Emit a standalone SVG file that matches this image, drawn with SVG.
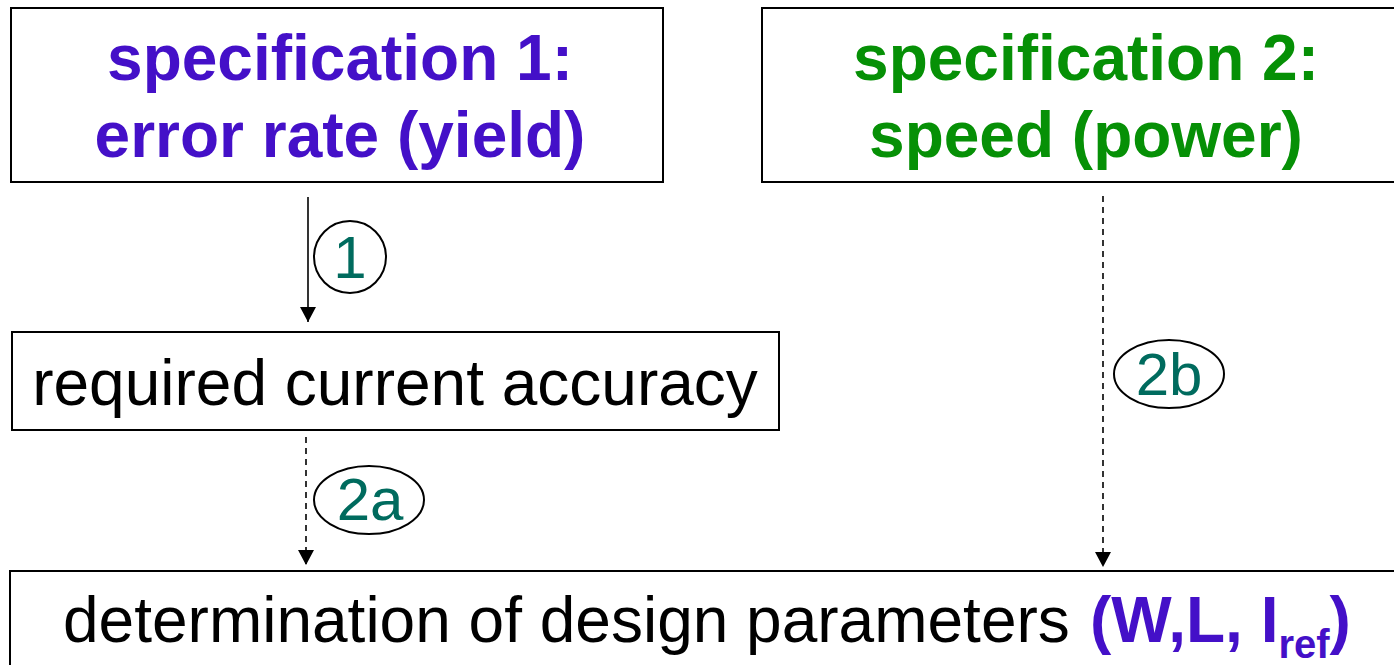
<svg xmlns="http://www.w3.org/2000/svg" width="1394" height="665" viewBox="0 0 1394 665">
  <style>
    .box { fill: #ffffff; stroke: #000000; stroke-width: 2; }
    .title { font-family: "Liberation Sans", Arial, sans-serif; font-weight: bold; font-size: 64px; text-anchor: middle; }
    .body { font-family: "Liberation Sans", Arial, sans-serif; font-size: 64px; fill: #000000; }
    .tag { fill: #ffffff; stroke: #000000; stroke-width: 2; }
    .tagtext { font-family: "Liberation Sans", Arial, sans-serif; font-size: 60px; fill: #006b5e; text-anchor: middle; }
    .purple { fill: #4410c8; }
    .green { fill: #069006; }
    .conn { stroke: #000000; stroke-width: 1.6; fill: none; }
    .dash { stroke-dasharray: 6 5; }
  </style>
  <defs>
    <marker id="arrow" viewBox="0 0 15 16" refX="15" refY="8" markerWidth="15" markerHeight="16" markerUnits="userSpaceOnUse" orient="auto">
      <path d="M0,0 L15,8 L0,16 Z" fill="#000000"/>
    </marker>
  </defs>

  <rect width="1394" height="665" fill="#ffffff"/>

  <g id="spec1">
    <rect class="box" x="11" y="8" width="652" height="174"/>
    <text class="title purple" x="340" y="80">specification 1:</text>
    <text class="title purple" x="340" y="157">error rate (yield)</text>
  </g>

  <g id="spec2">
    <rect class="box" x="762" y="8" width="640" height="174"/>
    <text class="title green" x="1086" y="80">specification 2:</text>
    <text class="title green" x="1086" y="157">speed (power)</text>
  </g>

  <g id="accuracy">
    <rect class="box" x="12" y="332" width="767" height="98"/>
    <text class="body" x="395" y="405" text-anchor="middle">required current accuracy</text>
  </g>

  <g id="parameters">
    <rect class="box" x="10" y="571" width="1400" height="110"/>
    <text class="body" x="63" y="642">determination of design parameters <tspan x="1090" class="purple" font-weight="bold">(W,L, I<tspan font-size="40" dy="16">ref</tspan><tspan dy="-16">)</tspan></tspan></text>
  </g>

  <g id="connectors">
    <line class="conn" x1="308" y1="197" x2="308" y2="322" marker-end="url(#arrow)"/>
    <line class="conn dash" x1="306" y1="437" x2="306" y2="565" marker-end="url(#arrow)"/>
    <line class="conn dash" x1="1103" y1="196" x2="1103" y2="567" marker-end="url(#arrow)"/>
  </g>

  <g id="tag-1">
    <ellipse class="tag" cx="350" cy="257" rx="36" ry="36"/>
    <text class="tagtext" x="350" y="278">1</text>
  </g>
  <g id="tag-2a">
    <ellipse class="tag" cx="369" cy="500" rx="55" ry="34"/>
    <text class="tagtext" x="370" y="520">2a</text>
  </g>
  <g id="tag-2b">
    <ellipse class="tag" cx="1169" cy="374" rx="55" ry="34"/>
    <text class="tagtext" x="1169" y="395">2b</text>
  </g>
</svg>
